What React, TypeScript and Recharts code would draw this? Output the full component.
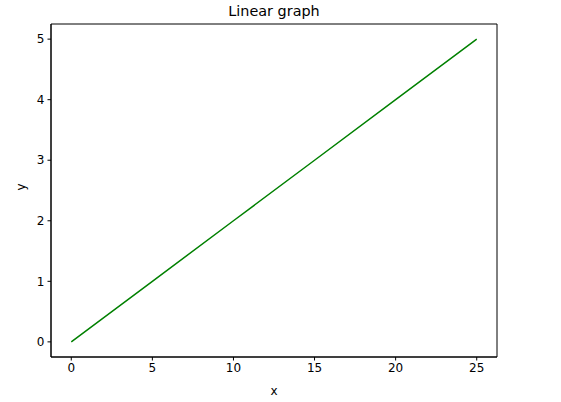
import { LineChart, Line, XAxis, YAxis, ReferenceArea } from "recharts";

const xValues = [0, 5, 10, 15, 20, 25];
const yValues = [0, 1, 2, 3, 4, 5];
const xTicks = [0, 5, 10, 15, 20, 25];
const yTicks = [0, 1, 2, 3, 4, 5];

const data = xValues.map((x, i) => ({ x, y: yValues[i] }));

const font = "'DejaVu Sans', sans-serif";
const tickStyle = { fontSize: 12, fill: "#000", fontFamily: font };

export default function App() {
  return (
    <div style={{ position: "absolute", left: 0, top: 0, width: 561, height: 402, background: "#fff" }}>
      <div
        style={{
          position: "absolute",
          left: 51,
          width: 446,
          top: 3,
          textAlign: "center",
          fontFamily: font,
          fontSize: 14.4,
          color: "#000",
        }}
      >
        Linear graph
      </div>
      <LineChart width={561} height={402} data={data} margin={{ top: 24, right: 64, bottom: 0, left: 0 }}>
        <XAxis
          dataKey="x"
          type="number"
          domain={[-1.25, 26.25]}
          ticks={xTicks}
          tick={tickStyle}
          tickSize={3.5}
          tickMargin={3}
          stroke="#000"
          height={45}
          label={{ value: "x", position: "insideBottom", offset: 7, fontSize: 12, fill: "#000", fontFamily: font }}
        />
        <YAxis
          dataKey="y"
          type="number"
          domain={[-0.25, 5.25]}
          ticks={yTicks}
          tick={tickStyle}
          tickSize={3.5}
          tickMargin={3}
          stroke="#000"
          width={51}
          label={{ value: "y", angle: -90, position: "insideLeft", offset: 21, fontSize: 12, fill: "#000", fontFamily: font }}
        />
        <ReferenceArea x1={-1.25} x2={26.25} y1={-0.25} y2={5.25} fill="none" stroke="#000" strokeWidth={1} />
        <Line
          type="linear"
          dataKey="y"
          stroke="#008000"
          strokeWidth={1.5}
          dot={false}
          isAnimationActive={false}
        />
      </LineChart>
    </div>
  );
}
